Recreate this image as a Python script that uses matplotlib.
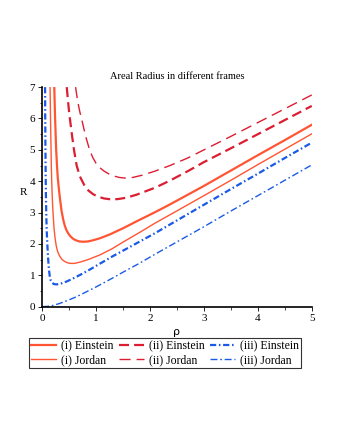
import matplotlib
matplotlib.use("Agg")
import matplotlib.pyplot as plt
from matplotlib.ticker import MultipleLocator

# values
rho_e1 = [0.225, 0.232, 0.24, 0.25, 0.26, 0.275, 0.29, 0.31, 0.33, 0.36, 0.39, 0.42, 0.45, 0.49, 0.52,
          0.57, 0.62, 0.69, 0.76, 0.85, 0.95, 1.07, 1.25, 1.5, 1.75, 2.09, 2.37, 3.0, 3.5, 4.0, 4.5, 5.0]
R_e1 = [7.0, 6.5, 6.0, 5.5, 5.0, 4.5, 4.1, 3.75, 3.45, 3.05, 2.78, 2.58, 2.44, 2.32, 2.25,
        2.17, 2.12, 2.08, 2.07, 2.08, 2.12, 2.18, 2.30, 2.50, 2.72, 3.01, 3.26, 3.85, 4.34, 4.83, 5.31, 5.80]

rho_j1 = [0.147, 0.151, 0.155, 0.16, 0.165, 0.17, 0.177, 0.185, 0.195, 0.207, 0.22, 0.24, 0.26, 0.28, 0.30,
          0.33, 0.37, 0.42, 0.47, 0.52, 0.6, 0.7, 0.85, 1.07, 1.3, 1.5, 1.8, 2.09, 2.37, 3.0, 3.5, 4.0, 4.5, 5.0]
R_j1 = [7.0, 6.5, 6.0, 5.5, 5.0, 4.5, 4.0, 3.6, 3.2, 2.85, 2.5, 2.18, 1.95, 1.8, 1.7,
        1.6, 1.5, 1.44, 1.40, 1.38, 1.38, 1.42, 1.5, 1.65, 1.85, 2.06, 2.36, 2.66, 2.93, 3.54, 4.03, 4.53, 5.02, 5.51]

rho_e2 = [0.456, 0.48, 0.5, 0.525, 0.55, 0.59, 0.64, 0.7, 0.78, 0.86, 0.95, 1.05, 1.15, 1.28, 1.4,
          1.55, 1.75, 2.09, 2.37, 2.7, 3.0, 3.5, 4.0, 4.5, 5.0]
R_e2 = [7.0, 6.55, 6.2, 5.85, 5.51, 5.0, 4.5, 4.15, 3.88, 3.7, 3.58, 3.5, 3.45, 3.42, 3.43,
        3.47, 3.57, 3.79, 4.02, 4.32, 4.61, 5.05, 5.50, 5.95, 6.40]

rho_j2 = [0.62, 0.645, 0.67, 0.7, 0.73, 0.77, 0.82, 0.88, 0.94, 1.0, 1.07, 1.15, 1.23, 1.32, 1.43,
          1.54, 1.68, 1.85, 2.09, 2.37, 2.7, 3.0, 3.5, 4.0, 4.5, 5.0]
R_j2 = [7.0, 6.7, 6.45, 6.2, 6.0, 5.7, 5.35, 5.0, 4.75, 4.57, 4.43, 4.32, 4.24, 4.17, 4.12,
        4.10, 4.12, 4.19, 4.32, 4.5, 4.74, 5.0, 5.43, 5.87, 6.31, 6.75]

rho_e3 = [0.054, 0.057, 0.061, 0.065, 0.07, 0.077, 0.085, 0.097, 0.11, 0.125, 0.14, 0.16, 0.185, 0.22, 0.27,
          0.35, 0.45, 0.55, 0.7, 0.85, 1.07, 1.3, 1.6, 2.09, 2.37, 3.0, 3.5, 4.0, 4.5, 5.0]
R_e3 = [7.0, 6.0, 5.0, 4.2, 3.5, 2.9, 2.4, 1.95, 1.55, 1.2, 0.98, 0.83, 0.76, 0.72, 0.71,
        0.74, 0.8, 0.88, 1.01, 1.15, 1.37, 1.6, 1.88, 2.34, 2.62, 3.25, 3.75, 4.24, 4.74, 5.23]

rho_j3 = [0.0, 0.1, 0.2, 0.3, 0.4, 0.5, 0.6, 0.7, 0.85, 1.0, 1.25, 1.5, 1.8, 2.09, 2.37, 3.0, 3.5, 4.0, 4.5, 5.0]
R_j3 = [0.0, 0.01, 0.04, 0.09, 0.15, 0.22, 0.29, 0.37, 0.5, 0.63, 0.86, 1.1, 1.38, 1.67, 1.94, 2.55, 3.05, 3.54, 4.03, 4.52]

labels = ["(i) Einstein", "(i) Jordan", "(ii) Einstein", "(ii) Jordan", "(iii) Einstein", "(iii) Jordan"]

serif = "Liberation Serif"
c_solid = "#ff5533"
c_dash = "#dc1e32"
c_blue = "#1a5ae6"

fig = plt.figure(figsize=(3.4, 4.4), dpi=100)
ax = fig.add_axes([0.124, 0.303, 0.793, 0.499])

h1, = ax.plot(rho_e1, R_e1, color=c_solid, lw=1.6, label=labels[0])
h2, = ax.plot(rho_j1, R_j1, color=c_solid, lw=1.0, label=labels[1])
h3, = ax.plot(rho_e2, R_e2, color=c_dash, lw=1.6, dashes=(4.5, 2.3), label=labels[2])
h4, = ax.plot(rho_j2, R_j2, color=c_dash, lw=1.0, dashes=(8, 4.3), label=labels[3])
h5, = ax.plot(rho_e3, R_e3, color=c_blue, lw=1.6, dashes=(2.8, 1.2, 0.7, 1.2), label=labels[4])
h6, = ax.plot(rho_j3, R_j3, color=c_blue, lw=1.0, dashes=(5, 2, 1.2, 2), label=labels[5])

ax.set_xlim(0, 5)
ax.set_ylim(0, 7)
ax.xaxis.set_major_locator(MultipleLocator(1))
ax.xaxis.set_minor_locator(MultipleLocator(0.5))
ax.yaxis.set_major_locator(MultipleLocator(1))
ax.yaxis.set_minor_locator(MultipleLocator(0.5))
for s in ["top", "right"]:
    ax.spines[s].set_visible(False)
ax.spines["left"].set_linewidth(1.2)
ax.spines["bottom"].set_linewidth(1.2)
ax.tick_params(which="major", length=3, width=0.6, labelsize=8, pad=2)
ax.tick_params(which="minor", length=1.8, width=0.5)
for t in ax.get_xticklabels() + ax.get_yticklabels():
    t.set_fontfamily(serif)

ax.set_title("Areal Radius in different frames", fontsize=7.5, family=serif, pad=6)
ax.set_xlabel("ρ", fontsize=8, labelpad=3)
ax.set_ylabel("R", fontsize=8, family=serif, rotation=0, labelpad=8)
ax.yaxis.set_label_coords(-0.07, 0.5)

leg = fig.legend(handles=[h1, h2, h3, h4, h5, h6], ncol=3, loc="upper center",
                 bbox_to_anchor=(0.485, 0.232), prop={"family": serif, "size": 8.5},
                 frameon=True, fancybox=False, edgecolor="black", handlelength=2.1,
                 handletextpad=0.4, columnspacing=0.5, labelspacing=0.15,
                 borderpad=0.2, borderaxespad=0)
leg.get_frame().set_linewidth(0.8)

fig.savefig("out.png", dpi=100)
